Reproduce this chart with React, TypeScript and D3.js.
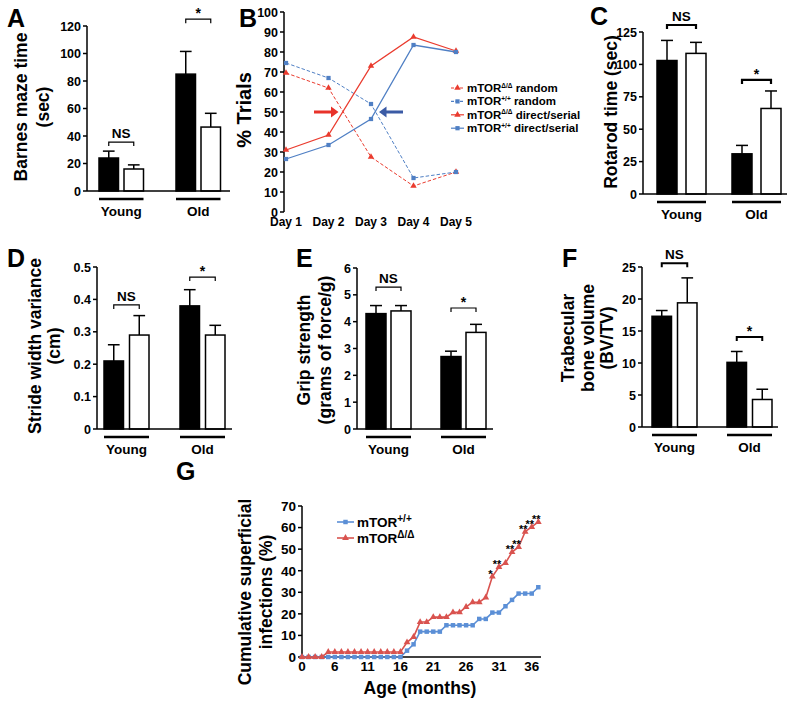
import React from "react";
import * as d3 from "d3";

const FONT = "'Liberation Sans', Arial, Helvetica, sans-serif";

// ---------- Bar panels (order: Young mTORΔ/Δ, Young mTOR+/+, Old mTORΔ/Δ, Old mTOR+/+)
const ageGroups = ["Young", "Old"];
const genotypes = ["KO", "WT"];

const barnesMean = [24, 16, 85, 46.5];
const barnesSem = [5, 3, 16.5, 10];
const barnesTicks = [0, 20, 40, 60, 80, 100, 120];

const rotarodMean = [103, 108.5, 31, 66];
const rotarodSem = [15.5, 8.5, 6.5, 13.5];
const rotarodTicks = [0, 25, 50, 75, 100, 125];

const strideMean = [0.21, 0.29, 0.38, 0.29];
const strideSem = [0.05, 0.06, 0.05, 0.03];
const strideTicks = [0, 0.1, 0.2, 0.3, 0.4, 0.5];

const gripMean = [4.3, 4.4, 2.7, 3.6];
const gripSem = [0.3, 0.2, 0.2, 0.3];
const gripTicks = [0, 1, 2, 3, 4, 5, 6];

const boneMean = [17.3, 19.4, 10.1, 4.3];
const boneSem = [0.9, 3.9, 1.7, 1.6];
const boneTicks = [0, 5, 10, 15, 20, 25];

// ---------- Panel B
const days = ["Day 1", "Day 2", "Day 3", "Day 4", "Day 5"];
const koRandom = [69.5, 62, 27.5, 13, 20];
const wtRandom = [74.5, 67, 54, 17, 20];
const koDirect = [31, 38.5, 73, 87.5, 80.5];
const wtDirect = [26.5, 33.5, 46.5, 83.5, 80];
const trialTicks = [0, 10, 20, 30, 40, 50, 60, 70, 80, 90, 100];

// ---------- Panel G
const months = [0, 2, 3, 4, 5, 6, 7, 8, 9, 10, 11, 12, 13, 14, 15, 16, 17, 18, 19, 20, 21, 22, 23, 24, 25, 26, 27, 28, 29, 30, 31, 32, 33, 34, 35, 36, 37];
const wtInfections = [0, 0, 0, 0, 0, 0, 0, 0, 0, 0, 0, 0, 0, 0, 0, 0, 2.94, 5.88, 11.76, 11.76, 11.76, 11.76, 14.71, 14.71, 14.71, 14.71, 14.71, 17.65, 17.65, 20.59, 20.59, 23.53, 26.47, 29.41, 29.41, 29.41, 32.35];
const koInfections = [0, 0, 0, 0, 2.3, 2.3, 2.3, 2.3, 2.3, 2.3, 2.3, 2.3, 2.3, 2.3, 2.3, 2.3, 6.8, 9.3, 16.2, 16.2, 18.5, 18.5, 18.5, 20.7, 20.7, 23.2, 25.4, 25.4, 27.6, 37.3, 41.7, 43.6, 48.6, 51, 58.1, 60.3, 62.6];
const monthTicks = [0, 6, 11, 16, 21, 26, 31, 36];
const infectionTicks = [0, 10, 20, 30, 40, 50, 60, 70];
const sigMonths = [30, 31, 33, 34, 35, 36, 37];
const sigLabels = ["*", "**", "**", "**", "**", "**", "**"];

const RED_B = "#ea3b2e";
const BLUE_B = "#4f7fc4";
const RED_G = "#d9534f";
const BLUE_G = "#5b8fd6";

type BarCfg = {
  letter: string; letterX: number; letterY: number;
  axisX: number; y0: number; yTop: number; yMax: number; ticks: number[]; fmt: (v: number) => string;
  barStart: number; step: number; band: number; barW: number; gap: number; xEnd: number;
  titles: string[]; titleXs: number[]; titleCY: number;
  nsAt: number; starAt: number; bracketW: number;
  mean: number[]; sem: number[];
};

const barPanels: BarCfg[] = [
  {
    letter: "A", letterX: 7, letterY: 27,
    axisX: 87, y0: 191, yTop: 26, yMax: 120, ticks: barnesTicks, fmt: (v) => String(v),
    barStart: 99, step: 77, band: 44.5, barW: 19.5, gap: 5.5, xEnd: 230,
    titles: ["Barnes maze time", "(sec)"], titleXs: [27, 49], titleCY: 107,
    nsAt: 35.6, starAt: 125, bracketW: 1.2,
    mean: barnesMean, sem: barnesSem,
  },
  {
    letter: "C", letterX: 590, letterY: 25,
    axisX: 643, y0: 194, yTop: 32, yMax: 125, ticks: rotarodTicks, fmt: (v) => String(v),
    barStart: 657, step: 75, band: 49, barW: 20, gap: 9, xEnd: 787,
    titles: ["Rotarod time (sec)"], titleXs: [617], titleCY: 112,
    nsAt: 130.4, starAt: 88, bracketW: 2.2,
    mean: rotarodMean, sem: rotarodSem,
  },
  {
    letter: "D", letterX: 7, letterY: 267,
    axisX: 97, y0: 429, yTop: 267, yMax: 0.5, ticks: strideTicks, fmt: (v) => (v === 0 ? "0" : v.toFixed(1)),
    barStart: 104, step: 76, band: 45, barW: 19.5, gap: 6, xEnd: 232,
    titles: ["Stride width variance", "(cm)"], titleXs: [41, 60], titleCY: 346,
    nsAt: 0.383, starAt: 0.469, bracketW: 1.2,
    mean: strideMean, sem: strideSem,
  },
  {
    letter: "E", letterX: 296, letterY: 267,
    axisX: 357, y0: 429, yTop: 268, yMax: 6, ticks: gripTicks, fmt: (v) => String(v),
    barStart: 366, step: 75, band: 45, barW: 20, gap: 5, xEnd: 493,
    titles: ["Grip strength", "(grams of force/g)"], titleXs: [310, 331], titleCY: 350,
    nsAt: 5.29, starAt: 4.51, bracketW: 1.2,
    mean: gripMean, sem: gripSem,
  },
  {
    letter: "F", letterX: 562, letterY: 267,
    axisX: 642, y0: 427, yTop: 267, yMax: 25, ticks: boneTicks, fmt: (v) => String(v),
    barStart: 652, step: 75, band: 45, barW: 19.5, gap: 6, xEnd: 778,
    titles: ["Trabecular", "bone volume", "(BV/TV)"], titleXs: [574, 594, 613], titleCY: 338,
    nsAt: 25.6, starAt: 14.06, bracketW: 2,
    mean: boneMean, sem: boneSem,
  },
];

function BarPanel({ cfg }: { cfg: BarCfg }) {
  const y = d3.scaleLinear().domain([0, cfg.yMax]).range([cfg.y0, cfg.yTop]);
  const gx = d3
    .scaleBand<string>()
    .domain(ageGroups)
    .range([cfg.barStart, cfg.barStart + cfg.step + cfg.band])
    .paddingInner((cfg.step - cfg.band) / cfg.step)
    .paddingOuter(0);
  const sx = d3
    .scaleBand<string>()
    .domain(genotypes)
    .range([0, cfg.band])
    .paddingInner(cfg.gap / (cfg.barW + cfg.gap))
    .paddingOuter(0);
  const bw = sx.bandwidth();
  const center = (gi: number, si: number) => (gx(ageGroups[gi]) as number) + (sx(genotypes[si]) as number) + bw / 2;
  const capW = bw * 0.6;

  const bracket = (gi: number, v: number, label: string, isStar: boolean) => {
    const x1 = center(gi, 0);
    const x2 = center(gi, 1);
    const yy = y(v);
    return (
      <g>
        <path
          d={`M${x1},${yy + 4}V${yy}H${x2}V${yy + 4}`}
          fill="none"
          stroke="#000"
          strokeWidth={cfg.bracketW}
        />
        <text
          x={(x1 + x2) / 2}
          y={isStar ? yy - 1 : yy - 4}
          textAnchor="middle"
          fontSize={isStar ? 14 : 13.5}
          fontWeight="bold"
        >
          {label}
        </text>
      </g>
    );
  };

  return (
    <g fontFamily={FONT}>
      <text x={cfg.letterX} y={cfg.letterY} fontSize={25} fontWeight="bold">
        {cfg.letter}
      </text>
      {cfg.titles.map((t, i) => (
        <text
          key={t}
          transform={`translate(${cfg.titleXs[i]},${cfg.titleCY}) rotate(-90)`}
          textAnchor="middle"
          fontSize={17.5}
          fontWeight="bold"
        >
          {t}
        </text>
      ))}
      {ageGroups.map((g, gi) =>
        genotypes.map((s, si) => {
          const idx = gi * 2 + si;
          const m = cfg.mean[idx];
          const e = cfg.sem[idx];
          const x0 = (gx(g) as number) + (sx(s) as number);
          const xc = x0 + bw / 2;
          return (
            <g key={g + s}>
              <line x1={xc} x2={xc} y1={y(m)} y2={y(m + e)} stroke="#000" strokeWidth={1.5} />
              <line x1={xc - capW / 2} x2={xc + capW / 2} y1={y(m + e)} y2={y(m + e)} stroke="#000" strokeWidth={1.5} />
              <rect
                x={x0}
                y={y(m)}
                width={bw}
                height={cfg.y0 - y(m)}
                fill={si === 0 ? "#000" : "#fff"}
                stroke="#000"
                strokeWidth={1.5}
              />
            </g>
          );
        })
      )}
      <line x1={cfg.axisX} x2={cfg.axisX} y1={cfg.y0} y2={cfg.yTop} stroke="#000" strokeWidth={1.5} />
      <line x1={cfg.axisX} x2={cfg.xEnd} y1={cfg.y0} y2={cfg.y0} stroke="#000" strokeWidth={1.5} />
      {cfg.ticks.map((t) => (
        <g key={t}>
          <line x1={cfg.axisX - 4} x2={cfg.axisX} y1={y(t)} y2={y(t)} stroke="#000" strokeWidth={1.5} />
          <text x={cfg.axisX - 6} y={y(t)} dy="0.36em" textAnchor="end" fontSize={12.5} fontWeight="bold">
            {cfg.fmt(t)}
          </text>
        </g>
      ))}
      {ageGroups.map((g) => {
        const gx0 = gx(g) as number;
        return (
          <g key={g}>
            <line x1={gx0} x2={gx0 + gx.bandwidth()} y1={cfg.y0 + 8} y2={cfg.y0 + 8} stroke="#000" strokeWidth={2.5} />
            <text x={gx0 + gx.bandwidth() / 2} y={cfg.y0 + 25} textAnchor="middle" fontSize={13.5} fontWeight="bold">
              {g}
            </text>
          </g>
        );
      })}
      {bracket(0, cfg.nsAt, "NS", false)}
      {bracket(1, cfg.starAt, "*", true)}
    </g>
  );
}

function Sup({ base, sup, size, supSize, rest }: { base: string; sup: string; size: number; supSize: number; rest?: string }) {
  return (
    <>
      <tspan fontSize={size}>{base}</tspan>
      <tspan fontSize={supSize} dy={-size * 0.38}>
        {sup}
      </tspan>
      {rest !== undefined ? (
        <tspan fontSize={size} dy={size * 0.38}>
          {rest}
        </tspan>
      ) : null}
    </>
  );
}

function PanelB() {
  const x = d3.scalePoint<string>().domain(days).range([286, 456]);
  const y = d3.scaleLinear().domain([0, 100]).range([212, 12]);
  const line = d3
    .line<number>()
    .x((_, i) => x(days[i]) as number)
    .y((d) => y(d));
  const tri = d3.symbol().type(d3.symbolTriangle).size(18)() as string;
  const sq = d3.symbol().type(d3.symbolSquare).size(18)() as string;
  const series = [
    { vals: koRandom, color: RED_B, dash: "3.5,2", mark: tri, sup: "Δ/Δ", label: " random" },
    { vals: wtRandom, color: BLUE_B, dash: "3.5,2", mark: sq, sup: "+/+", label: " random" },
    { vals: koDirect, color: RED_B, dash: "", mark: tri, sup: "Δ/Δ", label: " direct/serial" },
    { vals: wtDirect, color: BLUE_B, dash: "", mark: sq, sup: "+/+", label: " direct/serial" },
  ];
  const yArrow = y(50);
  return (
    <g fontFamily={FONT}>
      <text x={239} y={27} fontSize={25} fontWeight="bold">
        B
      </text>
      <text transform={`translate(251,110) rotate(-90)`} textAnchor="middle" fontSize={20} fontWeight="bold">
        % Trials
      </text>
      <line x1={284} x2={284} y1={y(0)} y2={y(100)} stroke="#000" strokeWidth={1.5} />
      {trialTicks.map((t) => (
        <g key={t}>
          <line x1={280} x2={284} y1={y(t)} y2={y(t)} stroke="#000" strokeWidth={1.5} />
          <text x={278} y={y(t)} dy="0.36em" textAnchor="end" fontSize={12.5} fontWeight="bold">
            {t}
          </text>
        </g>
      ))}
      {days.map((d) => (
        <text key={d} x={x(d)} y={226} textAnchor="middle" fontSize={12} fontWeight="bold">
          {d}
        </text>
      ))}
      {series.map((s, si) => (
        <g key={si}>
          <path d={line(s.vals) as string} fill="none" stroke={s.color} strokeWidth={s.dash ? 1 : 1.3} strokeDasharray={s.dash || undefined} />
          {s.vals.map((v, i) => (
            <path key={i} d={s.mark} transform={`translate(${x(days[i])},${y(v)})`} fill={s.color} />
          ))}
        </g>
      ))}
      <path
        d={`M314,${yArrow - 1.6}H331V${yArrow - 5.5}L338.5,${yArrow}L331,${yArrow + 5.5}V${yArrow + 1.6}H314Z`}
        fill="#e8322a"
      />
      <path
        d={`M403,${yArrow - 1.6}H386.5V${yArrow - 5.5}L379,${yArrow}L386.5,${yArrow + 5.5}V${yArrow + 1.6}H403Z`}
        fill="#3b5ba5"
      />
      {series.map((s, i) => {
        const ly = 88 + i * 13.4;
        return (
          <g key={i}>
            <line x1={451} x2={464} y1={ly} y2={ly} stroke={s.color} strokeWidth={1.2} strokeDasharray={s.dash ? "3,1.5" : undefined} />
            <path d={s.mark} transform={`translate(457.5,${ly})`} fill={s.color} />
            <text x={467} y={ly + 4} fontWeight="bold">
              <Sup base="mTOR" sup={s.sup} size={11.5} supSize={6.5} rest={s.label} />
            </text>
          </g>
        );
      })}
    </g>
  );
}

function PanelG() {
  const x = d3.scalePoint<number>().domain(months).range([302, 538.3]);
  const y = d3.scaleLinear().domain([0, 70]).range([657, 506]);
  const line = d3
    .line<number>()
    .x((_, i) => x(months[i]) as number)
    .y((d) => y(d));
  const tri = d3.symbol().type(d3.symbolTriangle).size(20)() as string;
  const sq = d3.symbol().type(d3.symbolSquare).size(20)() as string;
  return (
    <g fontFamily={FONT}>
      <text x={176} y={480} fontSize={25} fontWeight="bold">
        G
      </text>
      <text transform={`translate(251,592) rotate(-90)`} textAnchor="middle" fontSize={17.5} fontWeight="bold">
        Cumulative superficial
      </text>
      <text transform={`translate(272,592) rotate(-90)`} textAnchor="middle" fontSize={17.5} fontWeight="bold">
        infections (%)
      </text>
      <text x={420} y={694} textAnchor="middle" fontSize={17.5} fontWeight="bold">
        Age (months)
      </text>
      <line x1={302} x2={302} y1={y(0)} y2={y(70)} stroke="#000" strokeWidth={1.5} />
      <line x1={302} x2={541} y1={y(0)} y2={y(0)} stroke="#000" strokeWidth={1.5} />
      {infectionTicks.map((t) => (
        <g key={t}>
          <line x1={298} x2={302} y1={y(t)} y2={y(t)} stroke="#000" strokeWidth={1.5} />
          <text x={296} y={y(t)} dy="0.36em" textAnchor="end" fontSize={13.5} fontWeight="bold">
            {t}
          </text>
        </g>
      ))}
      {monthTicks.map((t) => (
        <text key={t} x={x(t)} y={671} textAnchor="middle" fontSize={13.5} fontWeight="bold">
          {t}
        </text>
      ))}
      <path d={line(wtInfections) as string} fill="none" stroke={BLUE_G} strokeWidth={1.6} />
      {wtInfections.map((v, i) => (
        <path key={"w" + i} d={sq} transform={`translate(${x(months[i])},${y(v)})`} fill={BLUE_G} />
      ))}
      <path d={line(koInfections) as string} fill="none" stroke={RED_G} strokeWidth={1.6} />
      {koInfections.map((v, i) => (
        <path key={"k" + i} d={tri} transform={`translate(${x(months[i])},${y(v)})`} fill={RED_G} />
      ))}
      {sigMonths.map((m, i) => {
        const v = koInfections[months.indexOf(m)];
        return (
          <text key={m} x={(x(m) as number) - 2} y={y(v) + 1} textAnchor="middle" fontSize={11} fontWeight="bold">
            {sigLabels[i]}
          </text>
        );
      })}
      <line x1={337} x2={354} y1={522} y2={522} stroke={BLUE_G} strokeWidth={1.6} />
      <path d={sq} transform="translate(345.5,522)" fill={BLUE_G} />
      <text x={357} y={527} fontWeight="bold">
        <Sup base="mTOR" sup="+/+" size={13.5} supSize={10} />
      </text>
      <line x1={337} x2={354} y1={538} y2={538} stroke={RED_G} strokeWidth={1.6} />
      <path d={tri} transform="translate(345.5,538)" fill={RED_G} />
      <text x={357} y={543} fontWeight="bold">
        <Sup base="mTOR" sup="Δ/Δ" size={13.5} supSize={10} />
      </text>
    </g>
  );
}

export default function App() {
  return (
    <svg
      width={800}
      height={704}
      viewBox="0 0 800 704"
      style={{ position: "absolute", left: 0, top: 0, background: "#fff" }}
    >
      <rect width={800} height={704} fill="#fff" />
      {barPanels.map((cfg) => (
        <BarPanel key={cfg.letter} cfg={cfg} />
      ))}
      <PanelB />
      <PanelG />
    </svg>
  );
}
